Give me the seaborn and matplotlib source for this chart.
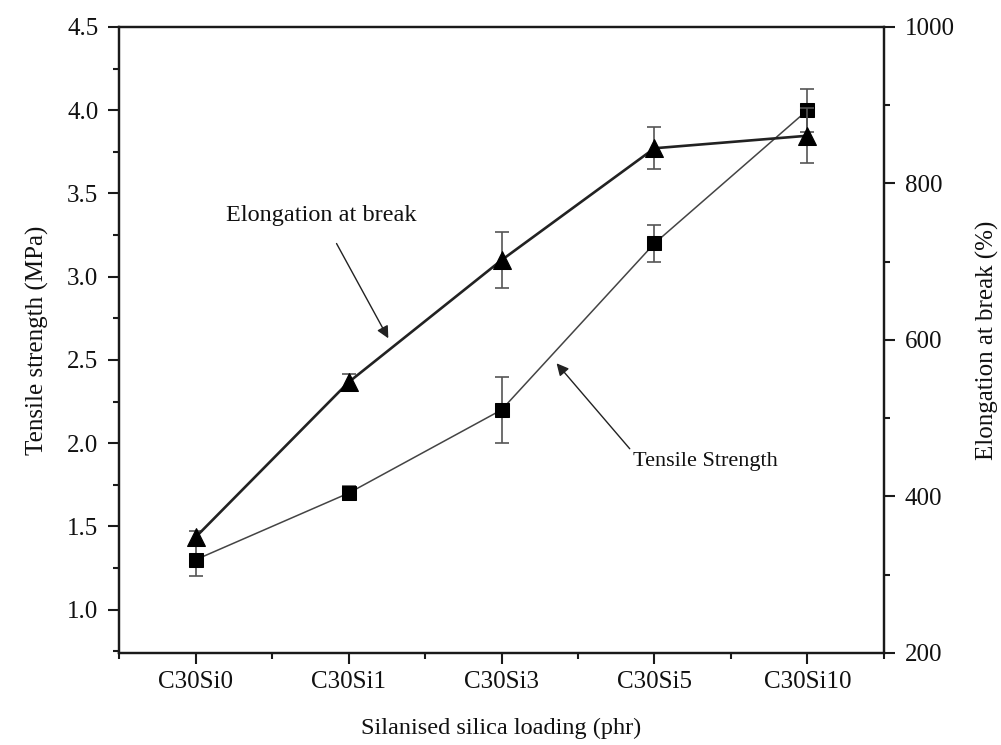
import matplotlib
matplotlib.use("Agg")
import matplotlib.pyplot as plt
import seaborn as sns
import numpy as np
import pandas as pd
from matplotlib.ticker import MultipleLocator

categories = ["C30Si0", "C30Si1", "C30Si3", "C30Si5", "C30Si10"]
tensile = [1.30, 1.70, 2.20, 3.20, 4.00]
tensile_err = [0.10, 0.04, 0.20, 0.11, 0.13]
elongation = [348, 546, 702, 845, 861]
elongation_err = [8, 10, 36, 27, 35]
left_ticks = [1.0, 1.5, 2.0, 2.5, 3.0, 3.5, 4.0, 4.5]
right_ticks = [200, 400, 600, 800, 1000]

sns.set_theme(style="ticks")
plt.rcParams['font.family'] = ['Liberation Serif', 'DejaVu Serif']

fig = plt.figure(figsize=(10.01, 7.45), dpi=100)
ax = fig.add_axes([0.119, 0.1235, 0.764, 0.8403])
ax2 = ax.twinx()

df = pd.DataFrame({"loading": categories, "tensile": tensile, "elongation": elongation})
pos = np.arange(len(categories))

# Tensile strength (left axis)
ax.errorbar(pos, tensile, yerr=tensile_err, fmt="none", ecolor="#555555",
            elinewidth=1.2, capsize=5, capthick=1.2, zorder=2)
sns.lineplot(x=pos, y=df["tensile"], ax=ax, color="#444444", linewidth=1.1,
             marker="s", markersize=10, markerfacecolor="black",
             markeredgecolor="black", zorder=3)

# Elongation at break (right axis)
ax2.errorbar(pos, elongation, yerr=elongation_err, fmt="none", ecolor="#555555",
             elinewidth=1.2, capsize=5, capthick=1.2, zorder=2)
sns.lineplot(x=pos, y=df["elongation"], ax=ax2, color="#222222", linewidth=1.9,
             marker="^", markersize=13, markerfacecolor="black",
             markeredgecolor="black", zorder=3)

ax.set_xlim(-0.5, 4.5)
ax.set_ylim(0.74, 4.5)
ax2.set_ylim(200, 1000)

ax.set_xticks(pos)
ax.set_xticklabels(categories)
ax.xaxis.set_minor_locator(MultipleLocator(0.5))
ax.set_yticks(left_ticks)
ax.set_yticklabels([f"{v:.1f}" for v in left_ticks])
ax.yaxis.set_minor_locator(MultipleLocator(0.25))
ax2.set_yticks(right_ticks)
ax2.yaxis.set_minor_locator(MultipleLocator(100))

for a in (ax, ax2):
    for s in a.spines.values():
        s.set_linewidth(1.6)
        s.set_color("#1a1a1a")
    a.tick_params(which="major", length=8, width=1.5, colors="#1a1a1a",
                  labelsize=18, labelcolor="#111111", pad=7)
    a.tick_params(which="minor", length=4.5, width=1.5, colors="#1a1a1a")

ax.tick_params(axis="x", which="major", direction="out", top=False, pad=5)
ax.tick_params(axis="x", which="minor", direction="out", top=False)
ax.tick_params(axis="y", which="both", direction="out", right=False)
ax2.tick_params(axis="y", which="both", direction="out", left=False)

ax.set_xlabel("Silanised silica loading (phr)", fontsize=17.5, color="#111111")
ax.set_ylabel("Tensile strength (MPa)", fontsize=18, color="#111111")
ax2.set_ylabel("Elongation at break (%)", fontsize=18, color="#111111")
ax.xaxis.set_label_coords(0.5, -0.12)
ax.xaxis.label.set_va("center")
ax.yaxis.set_label_coords(-0.107, 0.5)
ax.yaxis.label.set_va("center")
ax2.yaxis.set_label_coords(1.136, 0.5)
ax2.yaxis.label.set_va("center")

ax.annotate("Elongation at break", xy=(1.26, 2.63), xytext=(0.82, 3.37),
            fontsize=17.5, ha="center", va="center", color="#111111",
            arrowprops=dict(arrowstyle="-|>", color="#222222", lw=1.0,
                            mutation_scale=18, shrinkA=12, shrinkB=0))
ax.annotate("Tensile Strength", xy=(2.36, 2.48), xytext=(3.33, 1.89),
            fontsize=16, ha="center", va="center", color="#111111",
            arrowprops=dict(arrowstyle="-|>", color="#222222", lw=1.0,
                            mutation_scale=18, shrinkA=0, shrinkB=0,
                            relpos=(0.0, 1.0)))

fig.savefig("out.png", dpi=100)
